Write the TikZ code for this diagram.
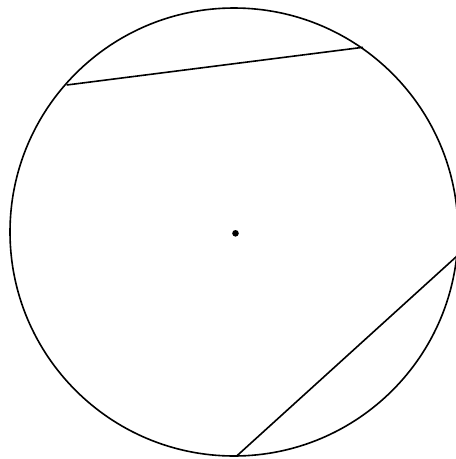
\documentclass[tikz,border=0pt]{standalone}
\begin{document}
\begin{tikzpicture}[x=1pt,y=-1pt,
  stroke/.style={line width=1.6pt,black},
  centredot/.style={fill=black}]
\useasboundingbox (0,0) rectangle (456,459);
\coordinate (O) at (234,232);
\coordinate (A) at (66.7,85);
\coordinate (B) at (363,47.3);
\coordinate (C) at (236.7,456);
\coordinate (D) at (456.5,256.5);
\draw[stroke] (O) circle[radius=224];
\draw[stroke] (A) -- (B);
\draw[stroke] (C) -- (D);
\fill[centredot] (235.5,233.3) circle[radius=3.3];
\end{tikzpicture}
\end{document}
